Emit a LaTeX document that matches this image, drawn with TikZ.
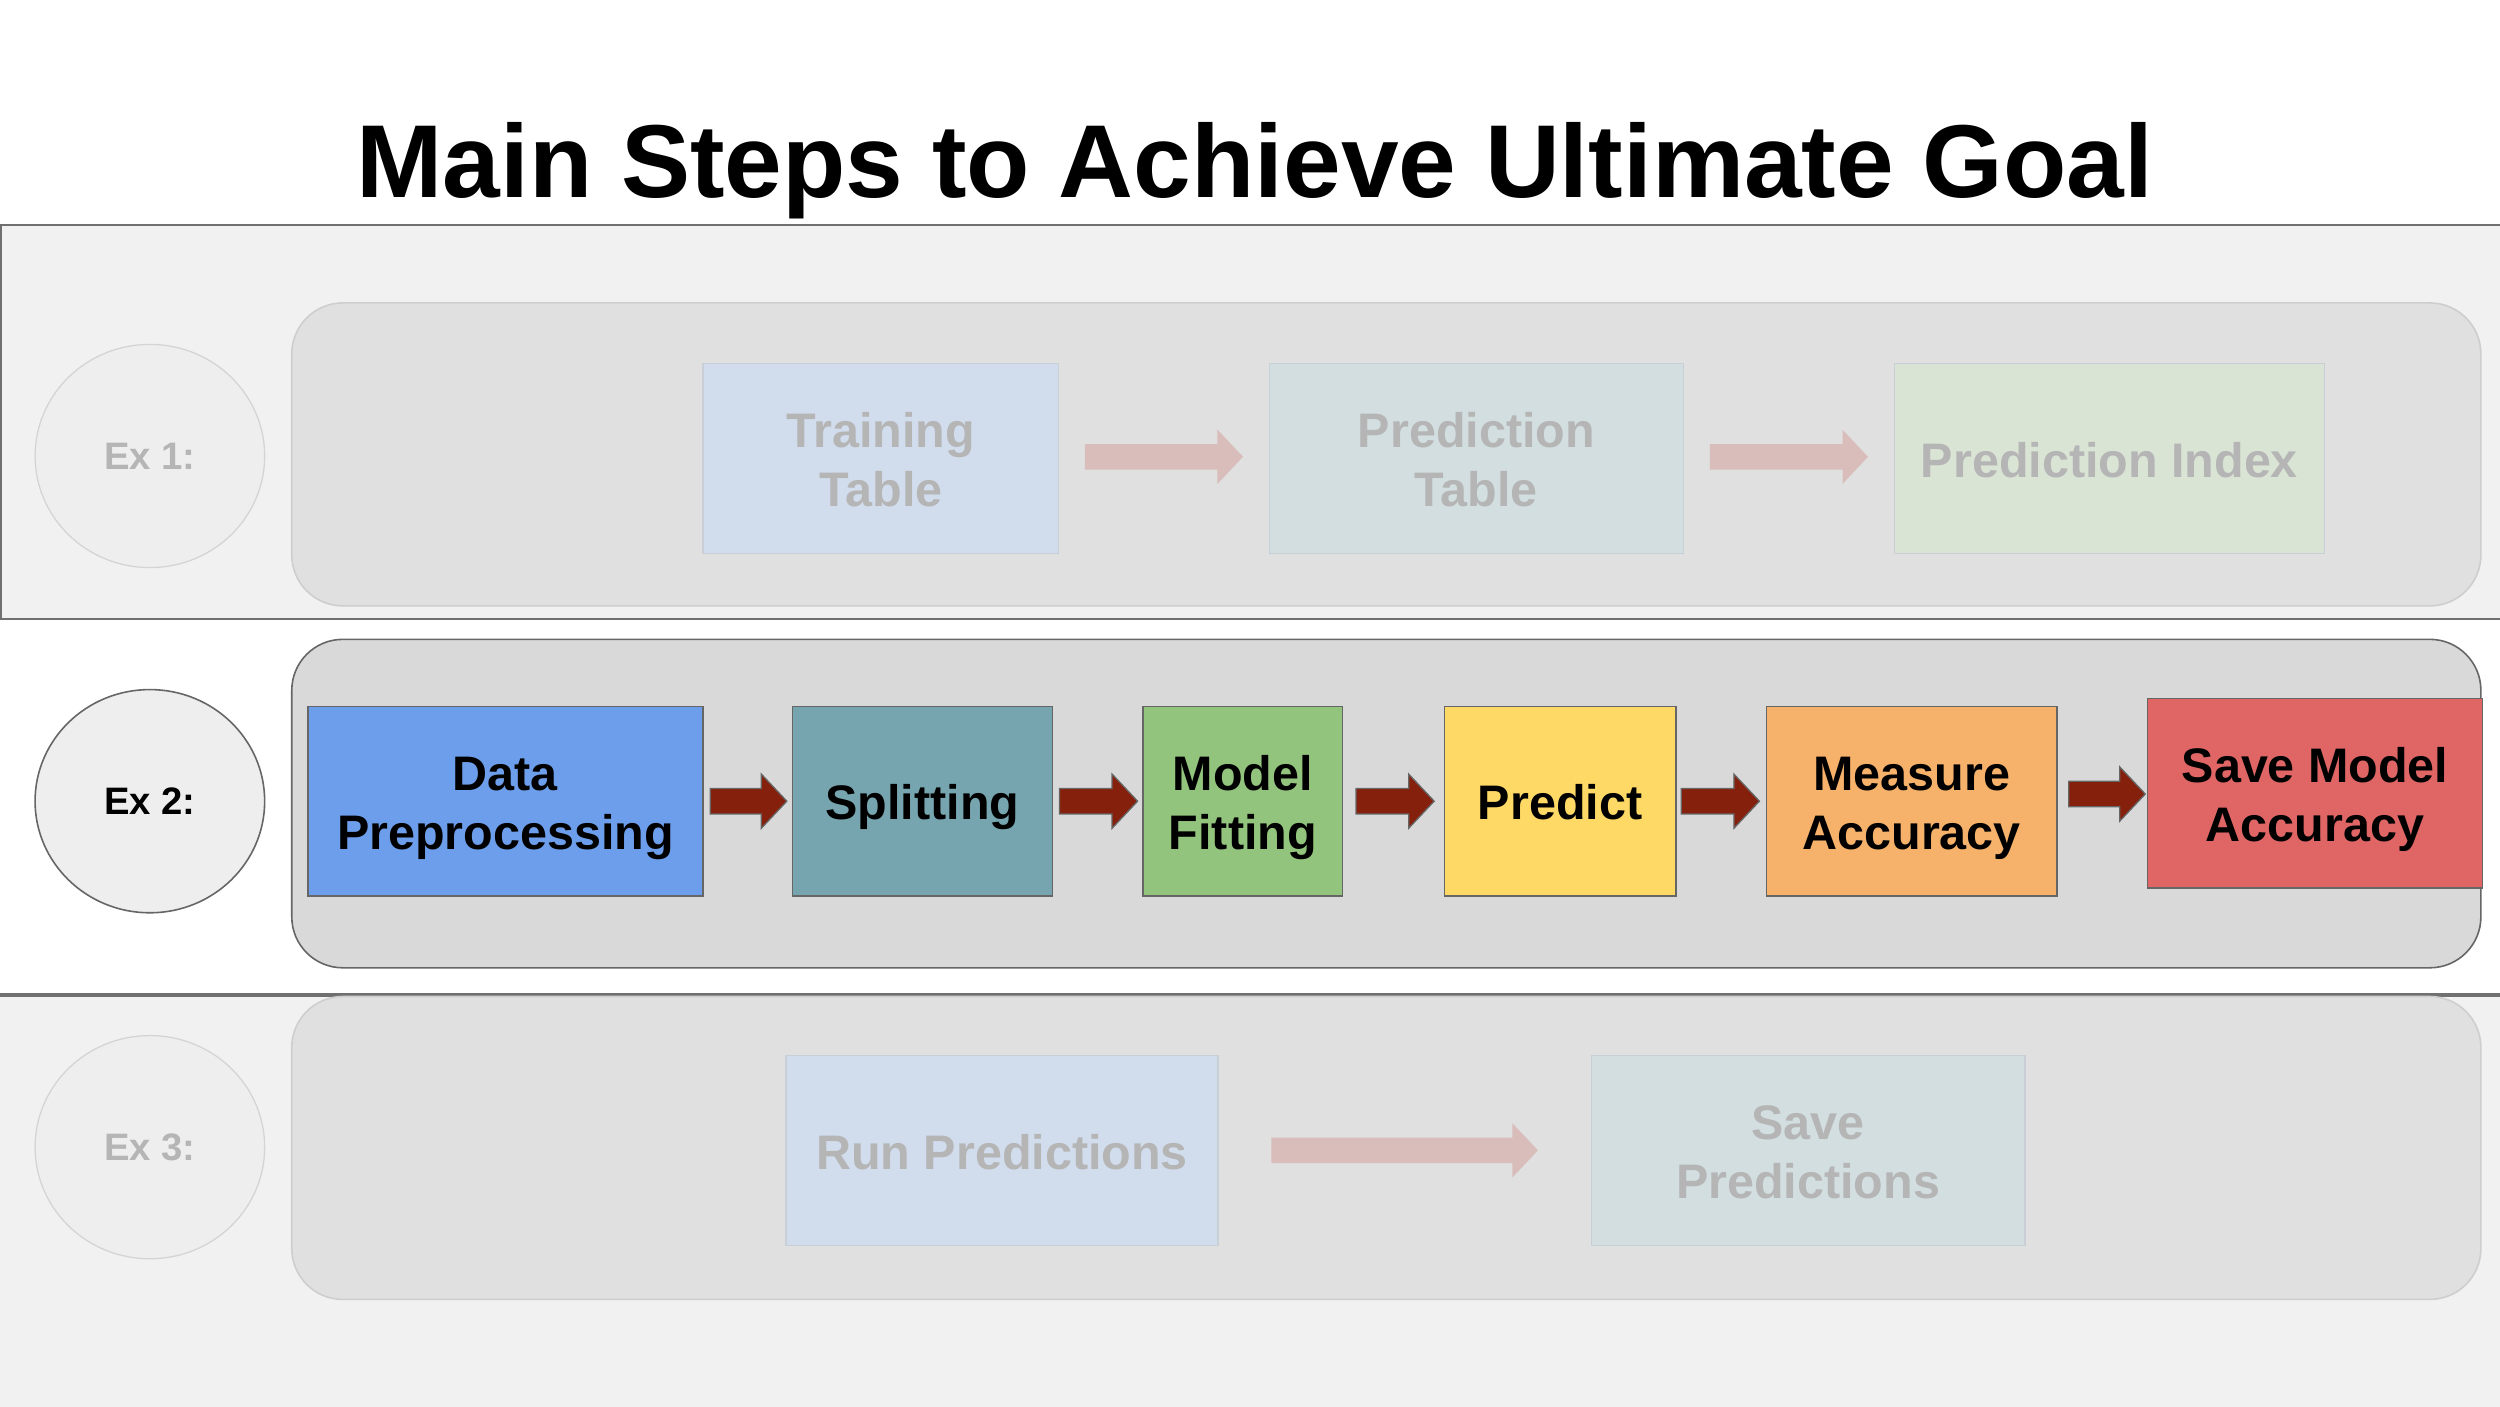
\documentclass[tikz,border=0pt]{standalone}
\usepackage{fontspec}
\setmainfont{Liberation Sans}
\usetikzlibrary{calc,shapes.geometric}
\definecolor{bandfill}{HTML}{F1F1F1}
\definecolor{bandline}{HTML}{707070}
\definecolor{lanefaded}{HTML}{E0E0E0}
\definecolor{lanefadedline}{HTML}{CECECE}
\definecolor{laneactive}{HTML}{D9D9D9}
\definecolor{darkline}{HTML}{666666}
\definecolor{ellfill}{HTML}{EEEEEE}
\definecolor{ellfadedline}{HTML}{D4D4D4}
\definecolor{fadedtext}{HTML}{B5B5B5}
\definecolor{fadedboxline}{HTML}{C9CFD6}
\definecolor{fblue}{HTML}{D1DCEC}
\definecolor{fteal}{HTML}{D2DEE0}
\definecolor{fgreen}{HTML}{D9E4D5}
\definecolor{farrow}{HTML}{D8BDBA}
\definecolor{darrow}{HTML}{85200C}
\definecolor{cblue}{HTML}{6D9EEB}
\definecolor{cteal}{HTML}{76A5AF}
\definecolor{cgreen}{HTML}{93C47D}
\definecolor{cyellow}{HTML}{FFD966}
\definecolor{corange}{HTML}{F6B26B}
\definecolor{cred}{HTML}{E06666}
\newcommand{\blockarrow}[3]{\path[#1] let \p1=#2, \p2=#3 in
  ({\x1},{\y1+4pt}) -- ({\x2-8pt},{\y1+4pt}) -- ({\x2-8pt},{\y1+8.5pt}) -- ({\x2},{\y1})
  -- ({\x2-8pt},{\y1-8.5pt}) -- ({\x2-8pt},{\y1-4pt}) -- ({\x1},{\y1-4pt}) -- cycle;}
\begin{document}
\begin{tikzpicture}[x=0.5pt,y=-0.5pt,
  boxtext/.style={inner sep=0pt, align=center, font=\bfseries\fontsize{15.2}{18.5}\selectfont,
    text height=14pt, text depth=2.3pt},
  twoline/.style={text height=32.5pt},
  activebox/.style={boxtext, draw=darkline, line width=0.5pt, text=black, fill=#1},
  fadedbox/.style={boxtext, draw=fadedboxline, line width=0.4pt, text=fadedtext, fill=#1},
  lanebox/.style={rounded corners=16pt, minimum width=686.5pt, inner sep=0pt},
  fadedlane/.style={lanebox, fill=lanefaded, draw=lanefadedline, line width=0.5pt},
  activelane/.style={lanebox, fill=laneactive, draw=darkline, line width=0.5pt},
  exoval/.style={ellipse, inner sep=0pt, minimum width=72pt, minimum height=70pt, fill=ellfill,
    font=\bfseries\fontsize{12}{14}\selectfont},
  fadedoval/.style={exoval, draw=ellfadedline, line width=0.4pt, text=fadedtext},
  activeoval/.style={exoval, draw=darkline, line width=0.5pt, text=black},
  fadedarrow/.style={fill=farrow},
  darkarrow/.style={fill=darrow, draw=darkline, line width=0.4pt}
]
\useasboundingbox (0,0) rectangle (1568,882);
\fill[white] (0,0) rectangle (1568,882);
% bands
\filldraw[fill=bandfill, draw=bandline, line width=0.6pt] (0.5,141) rectangle (1580,388);
\fill[bandfill] (0,624) rectangle (1568,890);
\draw[bandline, line width=1.1pt] (0,624) -- (1568,624);
% title
\node[anchor=base, inner sep=0pt, font=\bfseries\fontsize{32.5}{38}\selectfont] (title) at (787,124) {Main Steps to Achieve Ultimate Goal};
% lanes
\node[fadedlane, minimum height=95pt] (lane1) at (869.5,285) {};
\node[activelane, minimum height=103pt] (lane2) at (869.5,504) {};
\node[fadedlane, minimum height=95pt] (lane3) at (869.5,720) {};
% ovals
\node[fadedoval] (ex1) at (94,286) {Ex 1:};
\node[activeoval] (ex2) at (94,502.5) {Ex 2:};
\node[fadedoval] (ex3) at (94,719.5) {Ex 3:};
% row 1
\node[fadedbox=fblue, twoline, minimum width=111.5pt, minimum height=59.5pt] (tt) at (552.5,287.5) {Training\\Table};
\node[fadedbox=fteal, twoline, minimum width=130pt, minimum height=59.5pt] (pt) at (926,287.5) {Prediction\\Table};
\node[fadedbox=fgreen, minimum width=135pt, minimum height=59.5pt] (pi) at (1323,287.5) {Prediction Index};
\blockarrow{fadedarrow}{($(tt.east)+(16,-1)$)}{($(pt.west)+(-16,-1)$)}
\blockarrow{fadedarrow}{($(pt.east)+(16,-1)$)}{($(pi.west)+(-16,-1)$)}
% row 2
\node[activebox=cblue, twoline, minimum width=124pt, minimum height=59.5pt] (dp) at (317,502.5) {Data\\Preprocessing};
\node[activebox=cteal, minimum width=81.5pt, minimum height=59.5pt] (sp) at (578.5,502.5) {Splitting};
\node[activebox=cgreen, twoline, minimum width=62.5pt, minimum height=59.5pt] (mf) at (779.5,502.5) {Model\\Fitting};
\node[activebox=cyellow, minimum width=72.5pt, minimum height=59.5pt] (pr) at (978.5,502.5) {Predict};
\node[activebox=corange, twoline, minimum width=91pt, minimum height=59.5pt] (ma) at (1199,502.5) {Measure\\Accuracy};
\node[activebox=cred, twoline, minimum width=105pt, minimum height=59.5pt] (sm) at (1452,497.5) {Save Model\\Accuracy};
\blockarrow{darkarrow}{($(dp.east)+(4,0)$)}{($(sp.west)+(-3,0)$)}
\blockarrow{darkarrow}{($(sp.east)+(4,0)$)}{($(mf.west)+(-3,0)$)}
\blockarrow{darkarrow}{($(mf.east)+(8,0)$)}{($(pr.west)+(-6,0)$)}
\blockarrow{darkarrow}{($(pr.east)+(3,0)$)}{($(ma.west)+(-4,0)$)}
\blockarrow{darkarrow}{($(ma.east)+(7,-4.5)$)}{($(sm.west)+(-1,0.5)$)}
% row 3
\node[fadedbox=fblue, minimum width=135.5pt, minimum height=59.5pt] (rp) at (628.5,721.5) {Run Predictions};
\node[fadedbox=fteal, twoline, minimum width=136pt, minimum height=59.5pt] (spr) at (1134,721.5) {Save\\Predictions};
\blockarrow{fadedarrow}{($(rp.east)+(33,0)$)}{($(spr.west)+(-33,0)$)}
\end{tikzpicture}
\end{document}
